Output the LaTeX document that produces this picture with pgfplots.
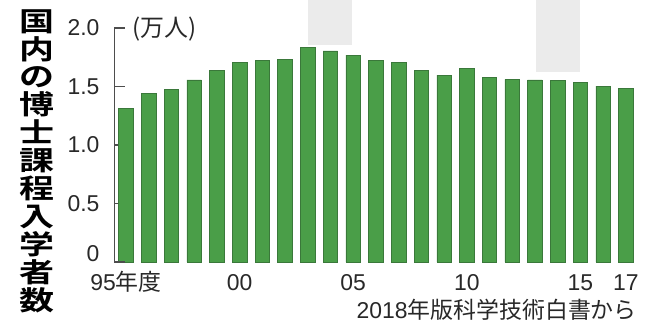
\documentclass[border=0pt]{standalone}
\usepackage{pgfplots}
\pgfplotsset{compat=1.18}
\usepackage{fontspec}
\setmainfont{Liberation Sans}
\newfontfamily\cjk{Noto Sans CJK JP}
\newfontfamily\cjkt{Noto Sans CJK JP Bold}[FakeStretch=1.3]
\definecolor{barg}{RGB}{74,158,72}
\definecolor{bare}{RGB}{58,120,58}
\definecolor{txt}{RGB}{40,40,40}
\definecolor{axc}{RGB}{77,77,77}
\tikzset{xl/.style={anchor=base, inner sep=0pt, yshift=-28bp, font=\fontsize{23}{23}\selectfont, text=txt}}
\begin{document}
\begin{tikzpicture}[x=1bp,y=1bp]
\useasboundingbox (0,0) rectangle (671,324);
\fill[black!8] (308,279) rectangle (352,324);
\fill[black!8] (536,252) rectangle (580,324);
\node[inner sep=0pt, align=center, font={\fontsize{27}{28}\selectfont\cjkt\lineskiplimit=-100bp}] at (37,163) {国\\内\\の\\博\\士\\課\\程\\入\\学\\者\\数};
\begin{axis}[
  at={(114.65bp,62bp)}, anchor=south west, scale only axis,
  width=522.5bp, height=234bp,
  xmin=1994.5, xmax=2017.5, ymin=0, ymax=2,
  clip=false,
  axis x line=none, axis y line*=left,
  axis line style={draw=axc, line width=1.2bp},
  every tick/.style={draw=axc, line width=1.2bp},
  tick align=inside, major tick length=10bp,
  xtick={1995,2000,2005,2010,2015,2017},
  ytick={0.5,1,1.5,2}, yticklabels={0.5,1.0,1.5,2.0},
  extra y ticks={0}, extra y tick labels={0},
  extra y tick style={yticklabel style={yshift=8bp}},
  yticklabel style={anchor=east, inner sep=0pt, xshift=-15bp},
  tick label style={font=\fontsize{23}{23}\selectfont, text=txt},
]
\addplot[ybar, bar width=14.5bp, fill=barg, draw=bare, line width=0.6bp] coordinates {
(1995,1.314) (1996,1.440) (1997,1.476) (1998,1.556) (1999,1.641)
(2000,1.709) (2001,1.724) (2002,1.735) (2003,1.832) (2004,1.805)
(2005,1.769) (2006,1.720) (2007,1.704) (2008,1.638) (2009,1.598)
(2010,1.658) (2011,1.579) (2012,1.561) (2013,1.556) (2014,1.550)
(2015,1.532) (2016,1.504) (2017,1.485)
};
\coordinate (o) at (axis cs:1994.5,0);
\coordinate (t) at (axis cs:1994.5,2);
\coordinate (h) at (axis cs:1994.5,1.5);
\coordinate (a) at (axis cs:1995,0);
\coordinate (b) at (axis cs:2000,0);
\coordinate (c) at (axis cs:2005,0);
\coordinate (d) at (axis cs:2010,0);
\coordinate (e) at (axis cs:2015,0);
\coordinate (f) at (axis cs:2017,0);
\end{axis}
\fill[axc] ([xshift=-0.6bp,yshift=-0.6bp]o) rectangle ([xshift=0.6bp,yshift=0.6bp]t);
\fill[axc] ([xshift=-0.6bp,yshift=-0.6bp]t) rectangle ([xshift=10bp,yshift=0.6bp]t);
\fill[axc] ([xshift=-0.6bp,yshift=-0.6bp]o) rectangle ([xshift=10bp,yshift=0.6bp]o);
\fill[axc] ([xshift=-0.6bp,yshift=-0.6bp]h) rectangle ([xshift=10bp,yshift=0.6bp]h);
\node[anchor=west, inner sep=0pt, font=\fontsize{24}{24}\selectfont, text=txt, xshift=18bp, yshift=-1bp] at (t) {\cjk (万人)};
\node[xl] at (a) {95{\cjk 年度}};
\node[xl] at (b) {00};
\node[xl] at (c) {05};
\node[xl] at (d) {10};
\node[xl] at (e) {15};
\node[xl] at (f) {17};
\node[anchor=base east, inner sep=0pt, font=\fontsize{23}{23}\selectfont, text=txt] at (637,6) {2018{\cjk 年版科学技術白書から}};
\end{tikzpicture}
\end{document}
